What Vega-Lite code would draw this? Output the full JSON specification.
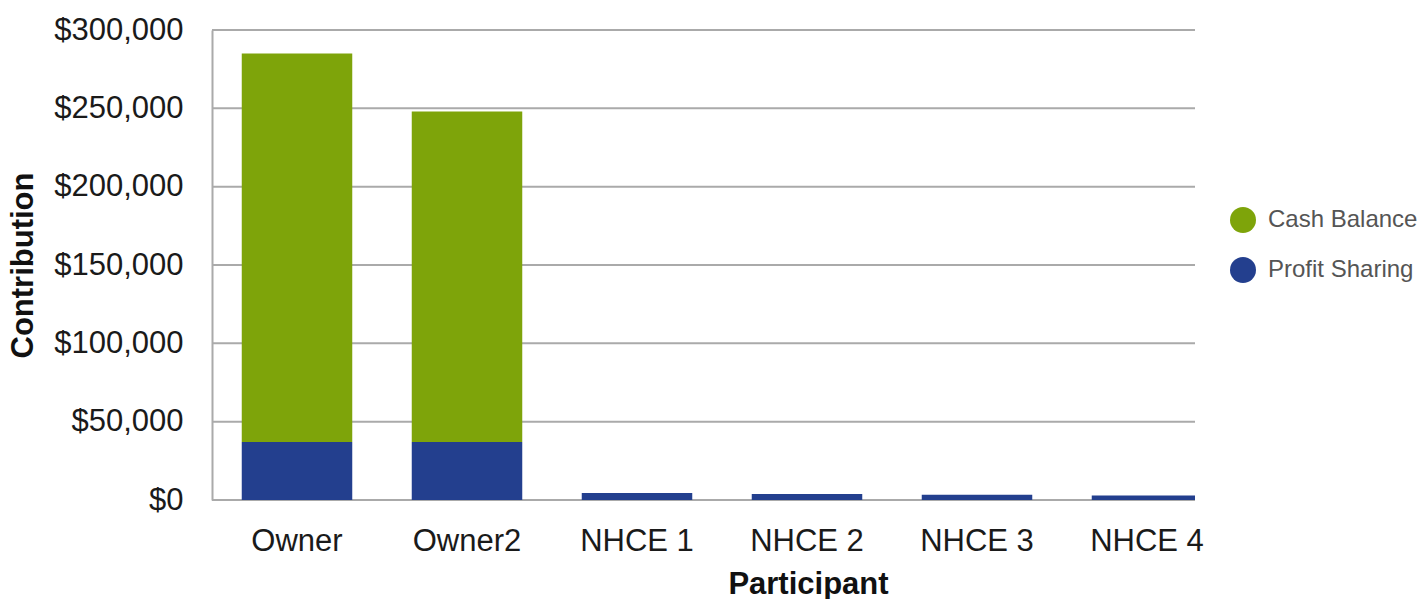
{
  "$schema": "https://vega.github.io/schema/vega-lite/v6.json",
  "autosize": "none",
  "padding": {"left": 212, "top": 30, "right": 224, "bottom": 99},
  "width": 983,
  "height": 470,
  "background": "white",
  "data": {
    "values": [
      {"participant": "Owner", "type": "Cash Balance", "amount": 248000},
      {"participant": "Owner", "type": "Profit Sharing", "amount": 37000},
      {"participant": "Owner2", "type": "Cash Balance", "amount": 211000},
      {"participant": "Owner2", "type": "Profit Sharing", "amount": 37000},
      {"participant": "NHCE 1", "type": "Profit Sharing", "amount": 4500},
      {"participant": "NHCE 2", "type": "Profit Sharing", "amount": 3800},
      {"participant": "NHCE 3", "type": "Profit Sharing", "amount": 3300},
      {"participant": "NHCE 4", "type": "Profit Sharing", "amount": 2800}
    ]
  },
  "layer": [
    {
      "data": {"values": [{"g": 0}, {"g": 50000}, {"g": 100000}, {"g": 150000}, {"g": 200000}, {"g": 250000}, {"g": 300000}]},
      "mark": {"type": "rule", "color": "#aaaaaa", "strokeWidth": 2},
      "encoding": {
        "y": {"field": "g", "type": "quantitative"}
      }
    },
    {
      "mark": {"type": "bar", "clip": true},
      "encoding": {
        "x": {
          "field": "participant",
          "type": "nominal",
          "sort": ["Owner", "Owner2", "NHCE 1", "NHCE 2", "NHCE 3", "NHCE 4"],
          "scale": {"range": [0, 1020], "paddingInner": 0.35, "paddingOuter": 0.175},
          "axis": {
            "title": "Participant",
            "labelAngle": 0,
            "domain": false,
            "ticks": false,
            "grid": false,
            "labelPadding": 26,
            "labelFont": "Liberation Sans",
            "labelFontSize": 31,
            "labelColor": "#1a1a1a",
            "titleFont": "Liberation Sans",
            "titleFontSize": 31,
            "titleFontWeight": "bold",
            "titleColor": "#111",
            "titlePadding": 13,
            "titleX": 596
          }
        },
        "y": {
          "field": "amount",
          "type": "quantitative",
          "stack": "zero",
          "scale": {"domain": [0, 300000], "nice": false},
          "axis": {
            "title": "Contribution",
            "values": [0, 50000, 100000, 150000, 200000, 250000, 300000],
            "format": "$,.0f",
            "ticks": false,
            "domain": true,
            "domainColor": "#aaaaaa",
            "domainWidth": 2,
            "grid": false,
            "labelPadding": 29,
            "labelFont": "Liberation Sans",
            "labelFontSize": 31,
            "labelColor": "#1a1a1a",
            "titleFont": "Liberation Sans",
            "titleFontSize": 31,
            "titleFontWeight": "bold",
            "titleColor": "#111",
            "titlePadding": 14
          }
        },
        "color": {
          "field": "type",
          "type": "nominal",
          "scale": {"domain": ["Cash Balance", "Profit Sharing"], "range": ["#7ea40a", "#233f8e"]},
          "legend": {
            "title": null,
            "orient": "none",
            "legendX": 1018,
            "legendY": 177,
            "symbolType": "circle",
            "symbolSize": 676,
            "symbolOpacity": 1,
            "symbolStrokeWidth": 0,
            "labelFont": "Liberation Sans",
            "labelFontSize": 24,
            "labelColor": "#555555",
            "labelOffset": 12,
            "rowPadding": 24
          }
        },
        "order": {"field": "type", "sort": "descending"}
      }
    }
  ],
  "config": {"view": {"stroke": null}}
}
